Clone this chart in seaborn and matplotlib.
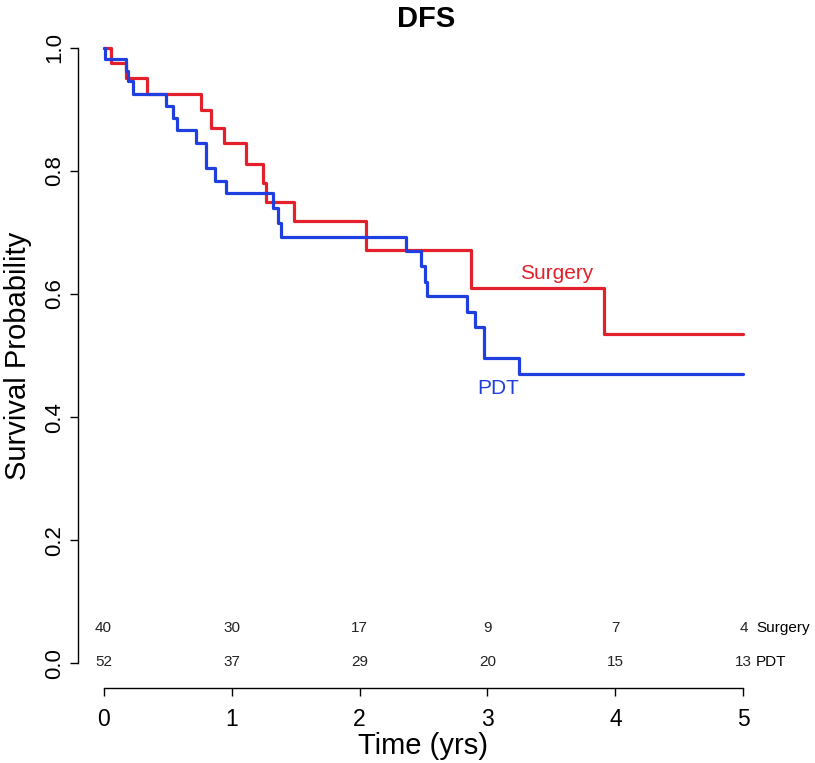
import pandas as pd
import matplotlib
matplotlib.use("Agg")
import matplotlib.pyplot as plt
import seaborn as sns

# Kaplan-Meier step values (time in years, survival)
surgery_time = [0.0, 0.055, 0.177, 0.34, 0.764, 0.837, 0.94, 1.11, 1.247, 1.268,
                1.487, 2.05, 2.87, 3.91, 5.0]
surgery_surv = [1.0, 0.975, 0.950, 0.925, 0.898, 0.870, 0.845, 0.811, 0.780, 0.750,
                0.718, 0.672, 0.610, 0.535, 0.535]

pdt_time = [0.0, 0.008, 0.177, 0.19, 0.23, 0.49, 0.54, 0.57, 0.72, 0.80, 0.87, 0.96,
            1.32, 1.364, 1.39, 2.363, 2.48, 2.51, 2.53, 2.84, 2.90, 2.97, 3.25, 5.0]
pdt_surv = [1.0, 0.981, 0.962, 0.946, 0.924, 0.905, 0.885, 0.866, 0.845, 0.805, 0.783,
            0.764, 0.739, 0.715, 0.693, 0.670, 0.646, 0.620, 0.596, 0.570, 0.546,
            0.496, 0.470, 0.470]

# numbers at risk
risk_times = [0, 1, 2, 3, 4, 5]
surgery_risk = [40, 30, 17, 9, 7, 4]
pdt_risk = [52, 37, 29, 20, 15, 13]

red = "#E3202B"
blue = "#1F3FE0"

df = pd.concat([
    pd.DataFrame({"time": surgery_time, "surv": surgery_surv, "arm": "Surgery"}),
    pd.DataFrame({"time": pdt_time, "surv": pdt_surv, "arm": "PDT"}),
])

sns.set_style("ticks")
plt.rcParams["font.family"] = ["Liberation Sans", "DejaVu Sans"]
plt.rcParams.update({"text.color": "black", "axes.labelcolor": "black",
                     "xtick.color": "black", "ytick.color": "black",
                     "axes.edgecolor": "black"})

fig = plt.figure(figsize=(8.15, 7.63), dpi=100)
ax = fig.add_axes([78 / 815, 75 / 763, (769 - 78) / 815, (688 - 23) / 763])

sns.lineplot(data=df, x="time", y="surv", hue="arm", palette={"Surgery": red, "PDT": blue},
             estimator=None, drawstyle="steps-post", linewidth=2.3, legend=False, ax=ax)

ax.set_xlim(-0.2, 5.2)
ax.set_ylim(-0.04, 1.04)

# R style axes: no box, spines only over the tick range
sns.despine(ax=ax)
ax.spines["left"].set_bounds(0, 1)
ax.spines["bottom"].set_bounds(0, 5)
ax.spines["left"].set_linewidth(1)
ax.spines["bottom"].set_linewidth(1)

ax.set_xticks(risk_times)
ax.set_xticklabels([str(t) for t in risk_times], fontsize=16.5)
ax.set_yticks([0.0, 0.2, 0.4, 0.6, 0.8, 1.0])
ax.set_yticklabels(["0.0", "0.2", "0.4", "0.6", "0.8", "1.0"], fontsize=16,
                   rotation=90, va="center")
ax.tick_params(axis="both", length=5.5, width=1, color="black")
ax.tick_params(axis="x", pad=9)
ax.tick_params(axis="y", pad=4)

ax.set_xlabel("Time (yrs)", fontsize=21)
ax.set_ylabel("Survival Probability", fontsize=21)
ax.xaxis.set_label_coords(0.5, -0.087)
ax.xaxis.label.set_va("center")
ax.yaxis.set_label_coords(-0.087, 0.5)
ax.yaxis.label.set_va("center")

fig.text(426 / 815, 1 - 19 / 763, "DFS", fontsize=21, fontweight="bold",
         ha="center", va="center")

# curve labels
ax.text(3.54, 0.633, "Surgery", color=red, fontsize=15, ha="center", va="center")
ax.text(3.08, 0.446, "PDT", color=blue, fontsize=15, ha="center", va="center")

# numbers at risk table
for t, n in zip(risk_times, surgery_risk):
    ax.text(t, 0.057, str(n), fontsize=11, ha="center", va="center", color="#222222")
for t, n in zip(risk_times, pdt_risk):
    ax.text(t, 0.003, str(n), fontsize=11, ha="center", va="center", color="#222222")
ax.text(5.1, 0.057, "Surgery", fontsize=11, ha="left", va="center", clip_on=False)
ax.text(5.1, 0.003, "PDT", fontsize=11, ha="left", va="center", clip_on=False)

plt.savefig("out.png", dpi=100)
